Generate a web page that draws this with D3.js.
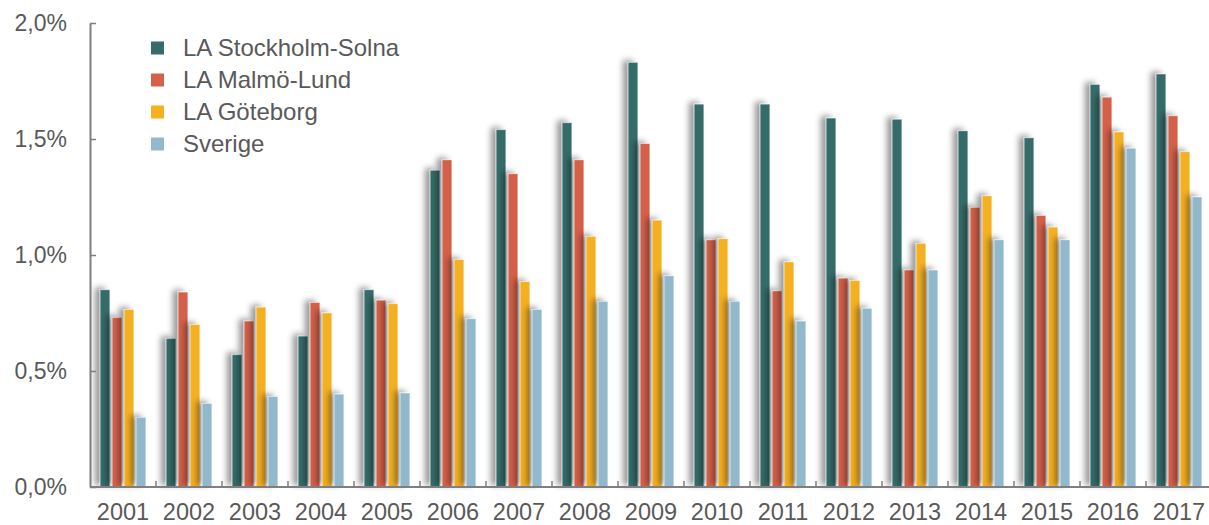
<!DOCTYPE html>
<html lang="sv">
<head>
  <meta charset="UTF-8" />
  <title>LA tillväxt</title>
  <script src="https://d3js.org/d3.v7.min.js"></script>
  <style>
    body { margin: 0; background: #fff; font-family: 'Liberation Sans', Arial, sans-serif; }
    svg { display: block; }
    .axis text { fill: #595959; font-size: 23px; font-family: 'Liberation Sans', Arial, sans-serif; }
    .axis.xaxis text { font-size: 23.5px; }
    .legend text { fill: #595959; font-size: 24px; }
  </style>
</head>
<body>
  <svg id="chart" width="1209" height="525"></svg>

  <script>
    const years = ["2001","2002","2003","2004","2005","2006","2007","2008","2009",
                   "2010","2011","2012","2013","2014","2015","2016","2017"];
    const seriesNames = ["LA Stockholm-Solna", "LA Malmö-Lund", "LA Göteborg", "Sverige"];
    const seriesColors = ["#356c69", "#d5614a", "#f5b024", "#91b8cb"];

    // values in percent
    const stockholm = [0.85, 0.64, 0.57, 0.65, 0.85, 1.365, 1.54, 1.57, 1.83, 1.65, 1.65, 1.59, 1.585, 1.535, 1.505, 1.735, 1.78];
    const malmo     = [0.73, 0.84, 0.715, 0.795, 0.805, 1.41, 1.35, 1.41, 1.48, 1.065, 0.845, 0.90, 0.935, 1.205, 1.17, 1.68, 1.60];
    const goteborg  = [0.765, 0.70, 0.775, 0.75, 0.79, 0.98, 0.885, 1.08, 1.15, 1.07, 0.97, 0.89, 1.05, 1.255, 1.12, 1.53, 1.445];
    const sverige   = [0.30, 0.36, 0.39, 0.40, 0.405, 0.725, 0.765, 0.80, 0.91, 0.80, 0.715, 0.77, 0.935, 1.065, 1.065, 1.46, 1.25];
    const yTicks = [0, 0.5, 1.0, 1.5, 2.0];

    const allSeries = [stockholm, malmo, goteborg, sverige];

    const mLeft = 90, mTop = 23, mBottom = 487, groupW = 66;
    const svg = d3.select("#chart");

    const defs = svg.append("defs");
    const f = defs.append("filter").attr("id", "shadow")
      .attr("x", "-120%").attr("y", "-10%").attr("width", "240%").attr("height", "120%");
    f.append("feDropShadow")
      .attr("dx", -5).attr("dy", -2).attr("stdDeviation", 3.2)
      .attr("flood-color", "#000").attr("flood-opacity", 0.42);

    const x = d3.scaleBand().domain(years).range([mLeft, mLeft + years.length * groupW]).padding(0);
    const xs = d3.scaleBand().domain(d3.range(4)).range([0, x.bandwidth()])
      .paddingInner(0.2).paddingOuter(0.85);
    const y = d3.scaleLinear().domain([0, 2]).range([mBottom, mTop]);

    // bars
    const groups = svg.append("g").selectAll("g")
      .data(years)
      .join("g")
      .attr("transform", d => `translate(${x(d)},0)`);

    groups.selectAll("rect")
      .data((d, i) => allSeries.map((s, k) => ({ k, v: s[i] })))
      .join("rect")
      .attr("x", d => xs(d.k))
      .attr("width", xs.bandwidth())
      .attr("y", d => y(d.v))
      .attr("height", d => y(0) - y(d.v))
      .attr("fill", d => seriesColors[d.k])
      .attr("stroke", "rgba(255,255,255,0.45)")
      .attr("stroke-width", 0.8)
      .attr("filter", "url(#shadow)");

    // y axis
    const yAxis = svg.append("g").attr("class", "axis")
      .attr("transform", `translate(${mLeft},0)`)
      .call(d3.axisLeft(y).tickValues(yTicks)
        .tickFormat(d => d3.format(".1f")(d).replace(".", ",") + "%")
        .tickSizeInner(-6).tickSizeOuter(0).tickPadding(23));
    yAxis.select(".domain").attr("stroke", "#7f7f7f").attr("stroke-width", 2);
    yAxis.selectAll(".tick line").attr("stroke", "#7f7f7f").attr("stroke-width", 1.5);

    // x axis (labels at group centres, ticks at group borders)
    const xAxis = svg.append("g").attr("class", "axis xaxis")
      .attr("transform", `translate(0,${mBottom})`)
      .call(d3.axisBottom(x).tickSize(0).tickPadding(16));
    xAxis.select(".domain").remove();
    xAxis.append("line")
      .attr("x1", mLeft).attr("x2", 1209)
      .attr("stroke", "#7f7f7f").attr("stroke-width", 2);
    xAxis.selectAll(".border")
      .data(years.slice(1))
      .join("line")
      .attr("class", "border")
      .attr("x1", d => x(d)).attr("x2", d => x(d))
      .attr("y1", 0).attr("y2", -6)
      .attr("stroke", "#7f7f7f").attr("stroke-width", 1.5);

    // legend
    const legend = svg.append("g").attr("class", "legend")
      .attr("transform", "translate(151,48)");
    const items = legend.selectAll("g")
      .data(seriesNames)
      .join("g")
      .attr("transform", (d, i) => `translate(0,${i * 32})`);
    items.append("rect")
      .attr("x", 0).attr("y", -6.5).attr("width", 13).attr("height", 13)
      .attr("fill", (d, i) => seriesColors[i]);
    items.append("text")
      .attr("x", 32).attr("dy", "0.35em")
      .text(d => d);
  </script>
</body>
</html>
